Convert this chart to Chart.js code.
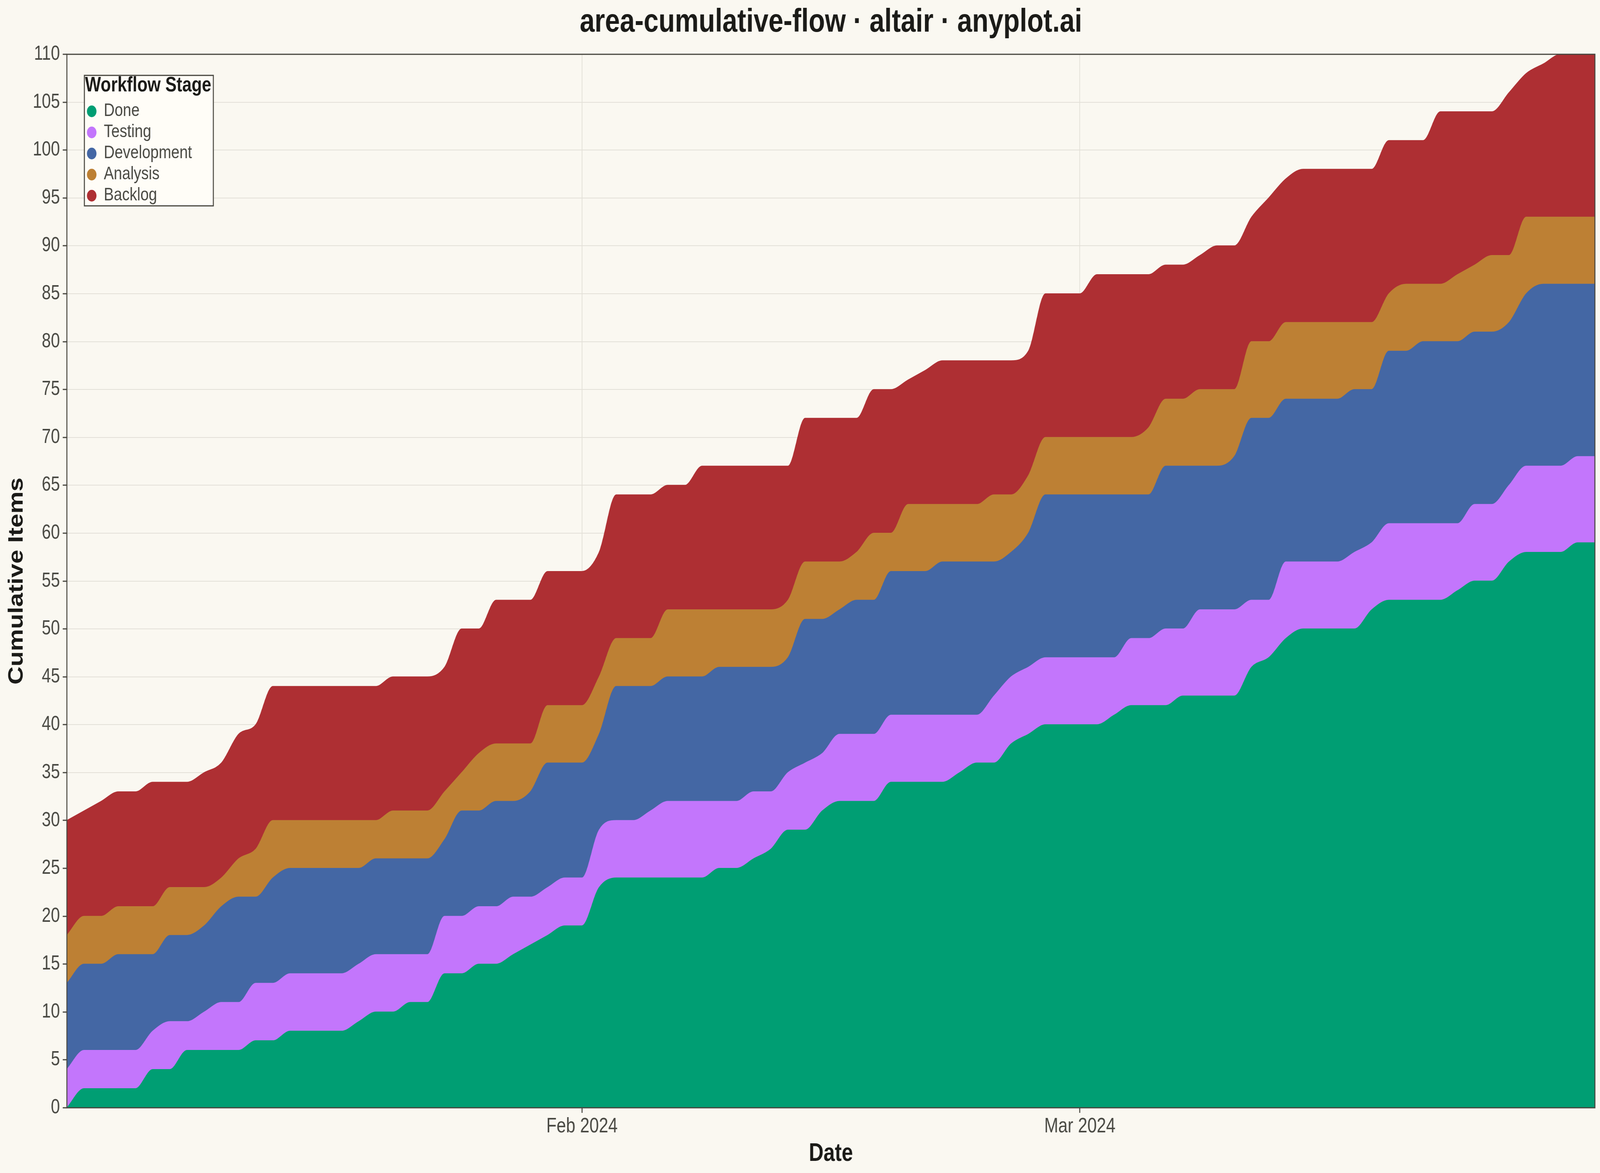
<!DOCTYPE html>
<html>
<head>
<meta charset="utf-8">
<title>area-cumulative-flow · altair · anyplot.ai</title>
<script src="https://cdn.jsdelivr.net/npm/chart.js@4.4.1/dist/chart.umd.min.js"></script>
<style>
  html, body { margin: 0; padding: 0; background: #faf8f1; overflow: hidden; }
  canvas { display: block; }
</style>
</head>
<body>
<canvas id="cfd" width="5025" height="3003"></canvas>
<script>
// one point per day, 2 Jan - 31 Mar 2024
const startDate = '2024-01-02';
const dayCount = 90;
const monthTicks = { '2024-02-01': 'Feb 2024', '2024-03-01': 'Mar 2024' };

// top edge of each band: items that have reached this stage (or a later one)
const cumDone = [
  0, 2, 2, 2, 2, 4, 4, 6, 6, 6,
  6, 7, 7, 8, 8, 8, 8, 9, 10, 10,
  11, 11, 14, 14, 15, 15, 16, 17, 18, 19,
  19, 23, 24, 24, 24, 24, 24, 24, 25, 25,
  26, 27, 29, 29, 31, 32, 32, 32, 34, 34,
  34, 34, 35, 36, 36, 38, 39, 40, 40, 40,
  40, 41, 42, 42, 42, 43, 43, 43, 43, 46,
  47, 49, 50, 50, 50, 50, 52, 53, 53, 53,
  53, 54, 55, 55, 57, 58, 58, 58, 59, 59
];
const cumTesting = [
  4, 6, 6, 6, 6, 8, 9, 9, 10, 11,
  11, 13, 13, 14, 14, 14, 14, 15, 16, 16,
  16, 16, 20, 20, 21, 21, 22, 22, 23, 24,
  24, 29, 30, 30, 31, 32, 32, 32, 32, 32,
  33, 33, 35, 36, 37, 39, 39, 39, 41, 41,
  41, 41, 41, 41, 43, 45, 46, 47, 47, 47,
  47, 47, 49, 49, 50, 50, 52, 52, 52, 53,
  53, 57, 57, 57, 57, 58, 59, 61, 61, 61,
  61, 61, 63, 63, 65, 67, 67, 67, 68, 68
];
const cumDevelopment = [
  13, 15, 15, 16, 16, 16, 18, 18, 19, 21,
  22, 22, 24, 25, 25, 25, 25, 25, 26, 26,
  26, 26, 28, 31, 31, 32, 32, 33, 36, 36,
  36, 39, 44, 44, 44, 45, 45, 45, 46, 46,
  46, 46, 47, 51, 51, 52, 53, 53, 56, 56,
  56, 57, 57, 57, 57, 58, 60, 64, 64, 64,
  64, 64, 64, 64, 67, 67, 67, 67, 68, 72,
  72, 74, 74, 74, 74, 75, 75, 79, 79, 80,
  80, 80, 81, 81, 82, 85, 86, 86, 86, 86
];
const cumAnalysis = [
  18, 20, 20, 21, 21, 21, 23, 23, 23, 24,
  26, 27, 30, 30, 30, 30, 30, 30, 30, 31,
  31, 31, 33, 35, 37, 38, 38, 38, 42, 42,
  42, 45, 49, 49, 49, 52, 52, 52, 52, 52,
  52, 52, 53, 57, 57, 57, 58, 60, 60, 63,
  63, 63, 63, 63, 64, 64, 66, 70, 70, 70,
  70, 70, 70, 71, 74, 74, 75, 75, 75, 80,
  80, 82, 82, 82, 82, 82, 82, 85, 86, 86,
  86, 87, 88, 89, 89, 93, 93, 93, 93, 93
];
const cumBacklog = [
  30, 31, 32, 33, 33, 34, 34, 34, 35, 36,
  39, 40, 44, 44, 44, 44, 44, 44, 44, 45,
  45, 45, 46, 50, 50, 53, 53, 53, 56, 56,
  56, 58, 64, 64, 64, 65, 65, 67, 67, 67,
  67, 67, 67, 72, 72, 72, 72, 75, 75, 76,
  77, 78, 78, 78, 78, 78, 79, 85, 85, 85,
  87, 87, 87, 87, 88, 88, 89, 90, 90, 93,
  95, 97, 98, 98, 98, 98, 98, 101, 101, 101,
  104, 104, 104, 104, 106, 108, 109, 110, 110, 110
];

const stages = ['Done', 'Testing', 'Development', 'Analysis', 'Backlog'];
const stageColors = ['#009e73', '#c376fc', '#4467a4', '#bd8034', '#ae2f33'];
const stageSeries = [cumDone, cumTesting, cumDevelopment, cumAnalysis, cumBacklog];

const FONT = '"Liberation Sans", Arial, Helvetica, sans-serif';
const BG = '#faf8f1';
const INK = '#1b1b18';
const LABEL = '#4a4a44';
const AXIS = '#46453e';
const GRID = '#e3e0d8';

const dates = [];
for (let i = 0; i < dayCount; i++) {
  const d = new Date(startDate + 'T00:00:00Z');
  d.setUTCDate(d.getUTCDate() + i);
  dates.push(d.toISOString().slice(0, 10));
}

function isMonthTick(ctx) {
  return monthTicks[dates[ctx.index]] !== undefined;
}

// background, plot frame, title and the boxed legend
const decor = {
  id: 'decor',
  beforeDraw(chart) {
    const ctx = chart.ctx;
    ctx.save();
    ctx.fillStyle = BG;
    ctx.fillRect(0, 0, chart.width, chart.height);
    ctx.restore();
  },
  afterDatasetsDraw(chart) {
    const ctx = chart.ctx;
    const a = chart.chartArea;
    ctx.save();

    ctx.strokeStyle = AXIS;
    ctx.lineWidth = 3;
    ctx.strokeRect(a.left, a.top, a.right - a.left, a.bottom - a.top);

    ctx.fillStyle = INK;
    ctx.font = 'bold 84px ' + FONT;
    ctx.textAlign = 'center';
    ctx.textBaseline = 'alphabetic';
    ctx.fillText('area-cumulative-flow · altair · anyplot.ai', (a.left + a.right) / 2, 81);

    const lx = a.left + 55, ly = a.top + 54;
    ctx.fillStyle = '#fffdf7';
    ctx.fillRect(lx, ly, 405, 334);
    ctx.strokeStyle = AXIS;
    ctx.lineWidth = 3;
    ctx.strokeRect(lx, ly, 405, 334);

    ctx.textAlign = 'left';
    ctx.fillStyle = INK;
    ctx.font = 'bold 53px ' + FONT;
    ctx.fillText('Workflow Stage', lx + 2, ly + 41);

    ctx.font = '47px ' + FONT;
    ctx.textBaseline = 'middle';
    chart.data.datasets.forEach((ds, i) => {
      const cy = ly + 92 + i * 54;
      ctx.fillStyle = ds.backgroundColor;
      ctx.beginPath();
      ctx.arc(lx + 23, cy, 15, 0, Math.PI * 2);
      ctx.fill();
      ctx.fillStyle = LABEL;
      ctx.fillText(ds.label, lx + 61, cy - 1);
    });
    ctx.restore();
  }
};

Chart.defaults.font.family = FONT;

const canvas = document.getElementById('cfd');
new Chart(canvas, {
  type: 'line',
  data: {
    labels: dates,
    datasets: stages.map((name, i) => ({
      label: name,
      data: stageSeries[i],
      backgroundColor: stageColors[i],
      borderColor: stageColors[i],
      borderWidth: 2,
      fill: i === 0 ? 'origin' : '-1',
      pointRadius: 0,
      cubicInterpolationMode: 'monotone'
    }))
  },
  options: {
    responsive: false,
    devicePixelRatio: 1,
    animation: false,
    layout: { padding: { top: 139, right: 16, bottom: 0, left: 0 } },
    plugins: {
      legend: { display: false },
      tooltip: { enabled: false },
      title: { display: false }
    },
    scales: {
      x: {
        type: 'category',
        offset: false,
        border: { display: false },
        grid: {
          offset: false,
          lineWidth: 2,
          color: ctx => isMonthTick(ctx) ? GRID : 'rgba(0,0,0,0)',
          tickLength: 13,
          tickWidth: 3,
          tickColor: ctx => isMonthTick(ctx) ? AXIS : 'rgba(0,0,0,0)'
        },
        ticks: {
          autoSkip: false,
          maxRotation: 0,
          padding: 4,
          color: LABEL,
          font: { size: 53 },
          callback: (value, index) => monthTicks[dates[index]] || ''
        },
        title: {
          display: true,
          text: 'Date',
          color: INK,
          font: { size: 64, weight: 'bold' },
          padding: { top: 0, bottom: 10 }
        },
        afterFit: s => { s.height = 167; }
      },
      y: {
        min: 0,
        max: 110,
        border: { display: false },
        grid: {
          lineWidth: 2,
          color: GRID,
          tickLength: 13,
          tickWidth: 3,
          tickColor: AXIS
        },
        ticks: {
          stepSize: 5,
          padding: 9,
          color: LABEL,
          font: { size: 51 }
        },
        title: {
          display: true,
          text: 'Cumulative Items',
          color: INK,
          font: { size: 64, weight: 'bold' },
          padding: { top: 15, bottom: 0 }
        },
        afterFit: s => { s.width = 210; }
      }
    }
  },
  plugins: [decor]
});

// show the 5025 x 3003 drawing over the whole window
canvas.style.width = '100vw';
canvas.style.height = '100vh';
</script>
</body>
</html>
